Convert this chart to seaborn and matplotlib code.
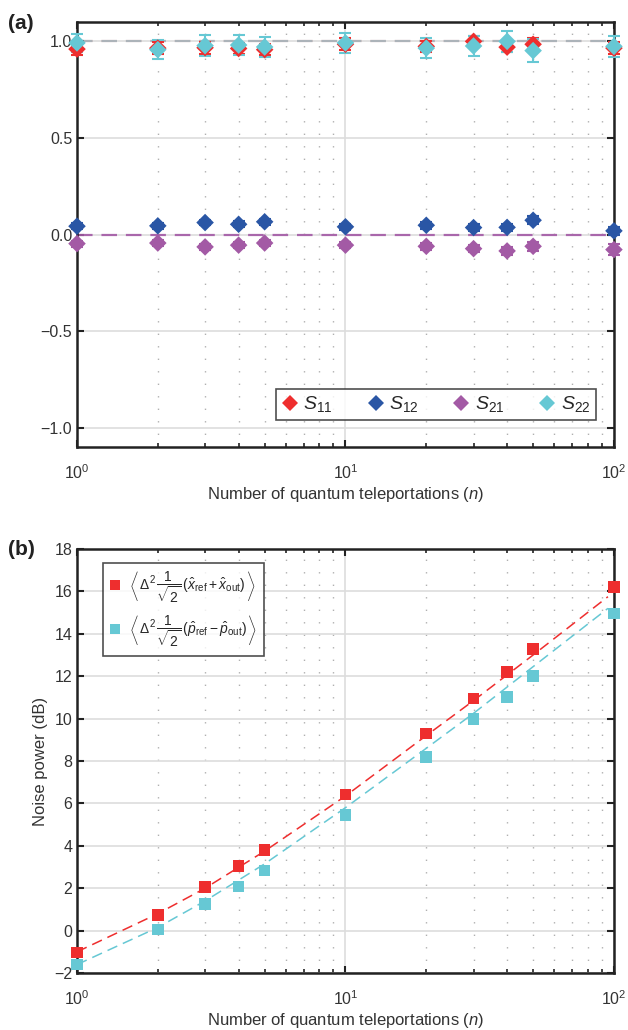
import numpy as np
import pandas as pd
import matplotlib
matplotlib.use('Agg')
import matplotlib.pyplot as plt
from matplotlib.ticker import LogLocator, NullFormatter
from matplotlib.lines import Line2D
import seaborn as sns

# number of teleportations
n_vals = [1, 2, 3, 4, 5, 10, 20, 30, 40, 50, 100]

# (a) matrix elements
s11 = [0.96, 0.965, 0.967, 0.963, 0.957, 0.985, 0.974, 1.0, 0.97, 0.985, 0.965]
s12 = [0.043, 0.045, 0.062, 0.053, 0.066, 0.04, 0.048, 0.036, 0.037, 0.074, 0.019]
s21 = [-0.047, -0.044, -0.064, -0.055, -0.044, -0.055, -0.061, -0.073, -0.085, -0.061, -0.078]
s22 = [0.992, 0.957, 0.978, 0.981, 0.971, 0.992, 0.965, 0.976, 1.0, 0.952, 0.974]
s11_err = [0.03, 0.03, 0.03, 0.03, 0.03, 0.03, 0.03, 0.03, 0.026, 0.03, 0.03]
s12_err = [0.015, 0.015, 0.015, 0.015, 0.015, 0.015, 0.018, 0.018, 0.018, 0.02, 0.02]
s21_err = [0.015, 0.015, 0.015, 0.015, 0.015, 0.015, 0.018, 0.02, 0.02, 0.022, 0.028]
s22_err = [0.045, 0.048, 0.053, 0.05, 0.05, 0.053, 0.05, 0.052, 0.054, 0.06, 0.055]

# (b) noise power in dB
noise_x = [-1.04, 0.74, 2.05, 3.05, 3.80, 6.42, 9.3, 10.94, 12.2, 13.28, 16.22]
noise_p = [-1.59, 0.06, 1.26, 2.09, 2.83, 5.44, 8.2, 9.98, 11.03, 12.0, 14.95]
# fitted curves
fit_n = [1, 2, 3, 5, 10, 20, 30, 50, 95]
fit_x = [-1.0, 0.8, 2.0, 3.75, 6.35, 9.2, 10.85, 13.0, 15.75]
fit_p = [-1.6, 0.15, 1.4, 3.15, 5.8, 8.6, 10.25, 12.45, 15.2]

names_a = ['$S_{11}$', '$S_{12}$', '$S_{21}$', '$S_{22}$']
colors_a = ['#ee2e2e', '#2a56a5', '#a35aa5', '#66c8d4']

label_x = (r'$\left\langle\,\Delta^2\,\dfrac{1}{\sqrt{2}}\,'
           r'(\hat{x}_{\mathrm{ref}}+\hat{x}_{\mathrm{out}})\,\right\rangle$')
label_p = (r'$\left\langle\,\Delta^2\,\dfrac{1}{\sqrt{2}}\,'
           r'(\hat{p}_{\mathrm{ref}}-\hat{p}_{\mathrm{out}})\,\right\rangle$')
red = '#ee2e2e'
cyan = '#66c8d4'

sns.set_theme(style='ticks')
plt.rcParams['font.family'] = ['Liberation Sans', 'DejaVu Sans']
plt.rcParams['mathtext.fontset'] = 'custom'
plt.rcParams['mathtext.rm'] = 'Liberation Sans'
plt.rcParams['mathtext.it'] = 'Liberation Sans:italic'
plt.rcParams['mathtext.bf'] = 'Liberation Sans:bold'

df_a = pd.DataFrame({
    'n': n_vals * 4,
    'value': s11 + s12 + s21 + s22,
    'err': s11_err + s12_err + s21_err + s22_err,
    'param': [nm for nm in names_a for _ in n_vals],
})
df_b = pd.DataFrame({
    'n': n_vals * 2,
    'dB': noise_x + noise_p,
    'quad': ['x'] * len(n_vals) + ['p'] * len(n_vals),
})
df_fit = pd.DataFrame({
    'n': fit_n * 2,
    'dB': fit_x + fit_p,
    'quad': ['x'] * len(fit_n) + ['p'] * len(fit_n),
})

fig = plt.figure(figsize=(6.28, 10.30), dpi=100)
ax_a = fig.add_axes([0.1226, 0.566, 0.855, 0.4126])
ax_b = fig.add_axes([0.1226, 0.0553, 0.855, 0.4117])


def style_axis(ax):
    ax.set_xscale('log')
    ax.set_xlim(1, 100)
    ax.xaxis.set_major_locator(LogLocator(base=10))
    ax.xaxis.set_minor_locator(LogLocator(base=10, subs=np.arange(2, 10)))
    ax.xaxis.set_minor_formatter(NullFormatter())
    ax.grid(True, which='major', axis='both', color='#dddddd', lw=1.2, zorder=0)
    ax.grid(True, which='minor', axis='x', color='#b0b0b0', lw=1.0,
            linestyle=(0, (1, 8)), zorder=0)
    ax.tick_params(which='both', direction='in', top=True, right=True,
                   colors='#222222', labelcolor='#333333', labelsize=11.5)
    ax.tick_params(which='major', length=5, width=1.5)
    ax.tick_params(which='minor', length=3, width=1.2)
    ax.tick_params(axis='x', which='major', pad=12)
    for sp in ax.spines.values():
        sp.set_color('#222222')
        sp.set_linewidth(1.8)
    ax.set_axisbelow(True)


# ---- panel (a)
style_axis(ax_a)
ax_a.set_ylim(-1.1, 1.1)
ax_a.set_yticks([-1.0, -0.5, 0.0, 0.5, 1.0])
ax_a.set_yticklabels(['\u22121.0', '\u22120.5', '0.0', '0.5', '1.0'])

ax_a.axhline(1.0, color=red, lw=1.6, alpha=0.35, dashes=(7, 4), zorder=1)
ax_a.axhline(1.0, color=cyan, lw=1.6, alpha=0.45, dashes=(7, 4), zorder=1)
ax_a.axhline(0.0, color='#a35aa5', lw=1.6, alpha=0.9, dashes=(7, 4), zorder=1)

for nm, col in zip(names_a, colors_a):
    sub = df_a[df_a['param'] == nm]
    eb = ax_a.errorbar(sub['n'], sub['value'], yerr=sub['err'], fmt='none',
                       ecolor=col, elinewidth=1.5, capsize=4, capthick=1.5,
                       zorder=3)
    for art in eb.get_children():
        art.set_clip_on(False)

sns.scatterplot(data=df_a, x='n', y='value', hue='param', palette=colors_a,
                hue_order=names_a, marker='D', s=80, linewidth=0, ax=ax_a,
                zorder=4, legend=False, clip_on=False)
ax_a.set_ylabel('')
ax_a.set_xlabel('Number of quantum teleportations ($n$)', fontsize=12,
                color='#333333', labelpad=2)

handles_a = [Line2D([], [], marker='D', color=c, ls='none', markersize=8,
                    markeredgewidth=0) for c in colors_a]
leg_a = ax_a.legend(handles_a, names_a, ncol=4, loc='lower right',
                    bbox_to_anchor=(0.985, 0.04), fontsize=14, frameon=True,
                    fancybox=False, edgecolor='#222222', handlelength=0.8,
                    handletextpad=0.3, columnspacing=1.8, borderpad=0.3)
leg_a.get_frame().set_linewidth(1.2)

# ---- panel (b)
style_axis(ax_b)
ax_b.set_ylim(-2, 18)
ax_b.set_yticks(range(-2, 19, 2))
ax_b.set_yticklabels(['\u22122'] + [str(v) for v in range(0, 19, 2)])

sns.lineplot(data=df_fit, x='n', y='dB', hue='quad', palette=[red, cyan],
             hue_order=['x', 'p'], lw=1.1, ax=ax_b, legend=False, zorder=2)
for ln in ax_b.get_lines()[-2:]:
    ln.set_dashes((7, 4))
sns.scatterplot(data=df_b, x='n', y='dB', hue='quad', palette=[red, cyan],
                hue_order=['x', 'p'], marker='s', s=70, linewidth=0, ax=ax_b,
                zorder=4, legend=False, clip_on=False)
ax_b.set_xlabel('Number of quantum teleportations ($n$)', fontsize=12,
                color='#333333', labelpad=2)
ax_b.set_ylabel('Noise power (dB)', fontsize=12, color='#333333', labelpad=4)

handles_b = [Line2D([], [], marker='s', color=c, ls='none', markersize=7,
                    markeredgewidth=0) for c in [red, cyan]]
leg_b = ax_b.legend(handles_b, [label_x, label_p], loc='upper left',
                    bbox_to_anchor=(0.035, 0.983), fontsize=10, frameon=True,
                    fancybox=False, edgecolor='#222222', handlelength=0.8,
                    handletextpad=0.6, borderpad=0.5, labelspacing=0.6)
leg_b.get_frame().set_linewidth(1.2)

fig.text(0.012, 0.986, '(a)', fontsize=15, fontweight='bold', color='#222222',
         va='top')
fig.text(0.012, 0.476, '(b)', fontsize=15, fontweight='bold', color='#222222',
         va='top')

fig.savefig('out.png', dpi=100)
